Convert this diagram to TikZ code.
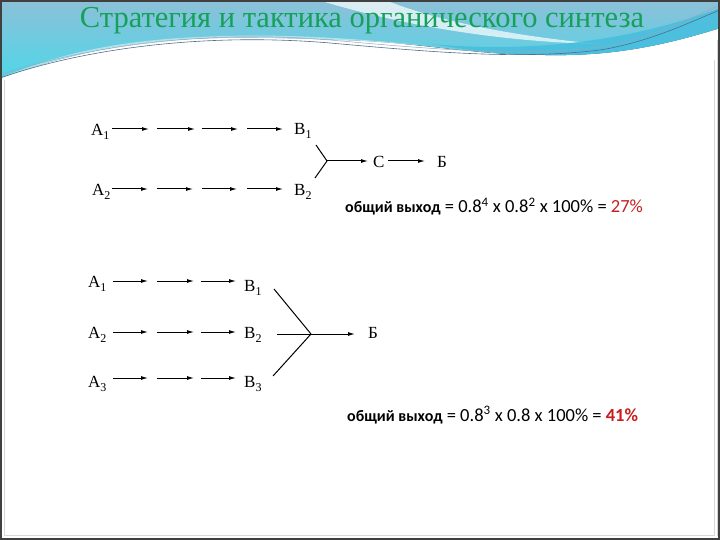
\documentclass[tikz,border=0pt]{standalone}
\usepackage{fontspec}
\setmainfont{Liberation Serif}
\newfontfamily\calib{Carlito}
\usetikzlibrary{arrows.meta}
\definecolor{titlegreen}{RGB}{22,160,90}
\definecolor{hdrtop}{RGB}{140,192,216}
\definecolor{hdrbot}{RGB}{80,214,232}
\definecolor{hdrcyan}{RGB}{70,190,222}
\definecolor{framegray}{RGB}{64,64,64}
\definecolor{lightframe}{RGB}{215,215,215}
\definecolor{redtxt}{RGB}{200,30,30}
\definecolor{swline}{RGB}{80,110,140}
\tikzset{
  lbl/.style={font=\fontsize{17}{17}\selectfont, inner sep=0pt, anchor=base west},
  arr/.style={line width=1pt, -{Latex[length=7pt,width=4pt]}},
  ln/.style={line width=1pt},
  yld/.style={font=\calib\fontsize{18.5}{20}\selectfont, inner sep=0pt, anchor=base west},
}
\newcommand{\lsub}[2]{#1\raisebox{-4pt}{\fontsize{12}{12}\selectfont #2}}
\newcommand{\yhead}{{\bfseries\fontsize{16}{18}\selectfont общий выход}}
\begin{document}
\begin{tikzpicture}[x=1pt,y=-1pt]
\useasboundingbox (0,0) rectangle (720,540);
\fill[white] (0,0) rectangle (720,540);
% header
\fill[top color=hdrtop, bottom color=hdrbot] (0,0) -- (720,0) -- (720,28)
  .. controls (650,50) and (600,56) .. (545,55)
  .. controls (470,55) and (420,42) .. (340,40)
  .. controls (240,36) and (170,36) .. (100,50)
  .. controls (60,58) and (30,68) .. (0,78) -- cycle;
\fill[white, opacity=0.7] (318,0) -- (385,0) .. controls (430,18) and (500,35) .. (600,44)
  .. controls (500,42) and (400,25) .. (318,0) -- cycle;
\fill[hdrcyan, opacity=0.85] (430,44) .. controls (520,52) and (620,45) .. (720,8) -- (720,28)
  .. controls (650,50) and (600,56) .. (545,55) .. controls (500,55) and (470,50) .. (430,44) -- cycle;
\fill[white, opacity=0.45] (0,78) .. controls (40,62) and (90,44) .. (180,38)
  .. controls (260,33) and (330,36) .. (420,45) .. controls (330,41) and (250,38) .. (160,45)
  .. controls (90,51) and (40,67) .. (0,78) -- cycle;
\draw[swline, line width=0.6pt] (0,78) .. controls (80,50) and (200,32) .. (330,43)
  .. controls (430,52) and (520,60) .. (600,50) .. controls (650,42) and (690,22) .. (720,10);
\draw[swline!60, line width=0.5pt] (0,75) .. controls (80,48) and (200,29) .. (330,40)
  .. controls (430,49) and (520,57) .. (600,47) .. controls (650,39) and (690,18) .. (720,5);
% title
\node (title) at (362,21) {\fontsize{30.5}{32}\selectfont\color{titlegreen}Стратегия и тактика органического синтеза};
% frame
\draw[lightframe, line width=0.6pt] (4.5,80) -- (4.5,535.5) -- (714,535.5) -- (714,60);
\draw[lightframe, line width=0.6pt] (717,40) -- (717,535.5);
\draw[framegray, line width=2pt] (1,1) rectangle (719,539);

% ---------- diagram 1 ----------
\node[lbl] (a11) at (91,136) {\lsub{A}{1}};
\node[lbl] (a12) at (92,196) {\lsub{A}{2}};
\node[lbl] (b11) at (294,135) {\lsub{B}{1}};
\node[lbl] (b12) at (294,196) {\lsub{B}{2}};
\node[lbl] (c1) at (373,168) {C};
\node[lbl] (bb1) at (437,168) {Б};
\foreach \i/\s/\e in {1/112/149,2/157/195,3/202/238,4/247/283}{
  \coordinate (p\i s) at (\s,129); \coordinate (p\i e) at (\e,129);
  \draw[arr] (p\i s) -- (p\i e);}
\foreach \i/\s/\e in {1/112/148,2/157/193,3/202/237,4/247/283}{
  \coordinate (q\i s) at (\s,189); \coordinate (q\i e) at (\e,189);
  \draw[arr] (q\i s) -- (q\i e);}
\coordinate (j1) at (327,161);
\coordinate (y1a) at (316,145);
\coordinate (y1b) at (315,178);
\draw[ln] (y1a) -- (j1);
\draw[ln] (y1b) -- (j1);
\coordinate (c1w) at (368,161);
\draw[arr] (j1) -- (c1w);
\coordinate (c1o) at (388,161);
\coordinate (bb1w) at (425,161);
\draw[arr] (c1o) -- (bb1w);
\node[yld] (t1) at (345,213) {\yhead{} = 0.8\textsuperscript{4} x 0.8\textsuperscript{2} x 100\% = \textcolor{redtxt}{27\%}};

% ---------- diagram 2 ----------
\node[lbl] (a21) at (88,287) {\lsub{A}{1}};
\node[lbl] (a22) at (88,338) {\lsub{A}{2}};
\node[lbl] (a23) at (88,387) {\lsub{A}{3}};
\node[lbl] (b21) at (244,291) {\lsub{B}{1}};
\node[lbl] (b22) at (244,338) {\lsub{B}{2}};
\node[lbl] (b23) at (244,387) {\lsub{B}{3}};
\node[lbl] (bb2) at (368,338) {Б};
\foreach \r/\y in {1/281,2/332,3/378}{
  \foreach \i/\s/\e in {1/113/148,2/157/194,3/201/236}{
    \coordinate (r\r s\i) at (\s,\y); \coordinate (r\r e\i) at (\e,\y);
    \draw[arr] (r\r s\i) -- (r\r e\i);}}
\coordinate (j2) at (311,334);
\coordinate (z1) at (274,289);
\coordinate (z2) at (277,334);
\coordinate (z3) at (273,376);
\draw[ln] (z1) -- (j2);
\draw[ln] (z2) -- (j2);
\draw[ln] (z3) -- (j2);
\coordinate (bb2w) at (355,334);
\draw[arr] (j2) -- (bb2w);
\node[yld] (t2) at (347,421) {\yhead{} = 0.8\textsuperscript{3} x 0.8 x 100\% = \textcolor{redtxt}{\bfseries 41\%}};
\end{tikzpicture}
\end{document}
